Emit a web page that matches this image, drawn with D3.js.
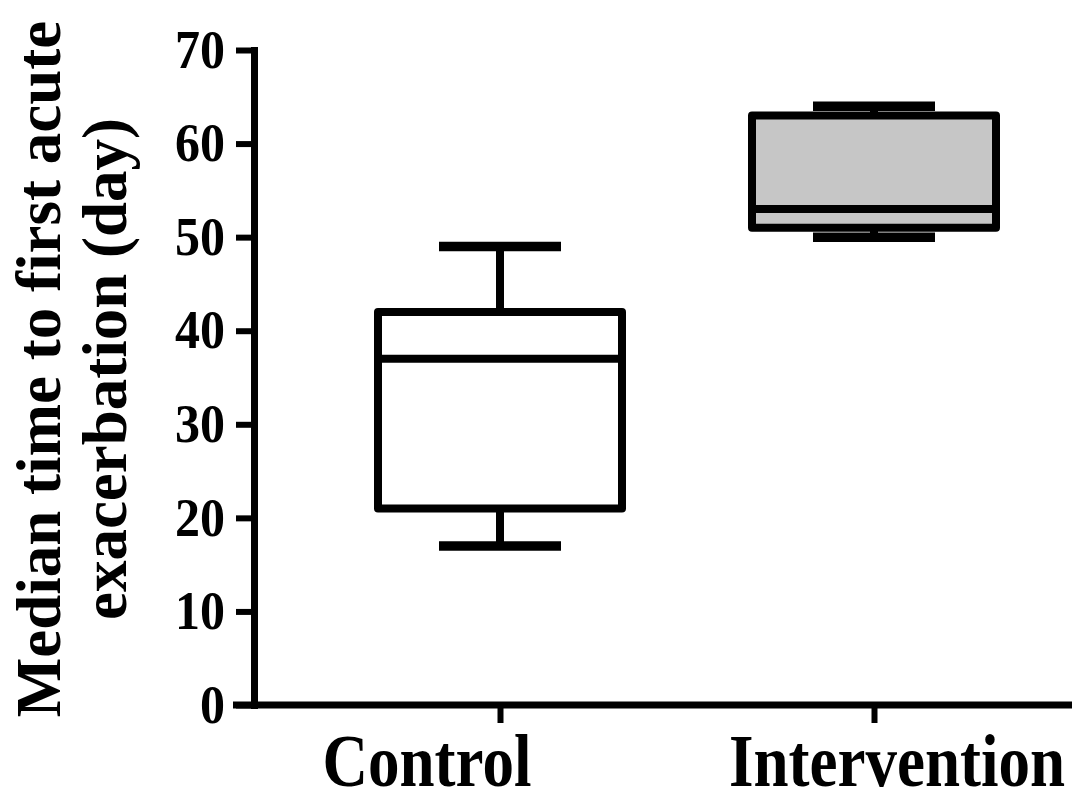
<!DOCTYPE html>
<html>
<head>
<meta charset="utf-8">
<script src="https://cdn.jsdelivr.net/npm/d3@7"></script>
<style>
  html, body { margin: 0; padding: 0; background: #fff; }
  svg { display: block; }
  text { font-family: "Liberation Serif", "Times New Roman", serif; font-weight: bold; fill: #000; }
</style>
</head>
<body>
<script>
// ---- data ----
const categories = ["Control", "Intervention"];
const mins    = [17, 50];
const q1s     = [21, 51];
const medians = [37, 53];
const q3s     = [42, 63];
const maxs    = [49, 64];
const boxFills = ["#ffffff", "#c6c6c6"];
const yTicks = [0, 10, 20, 30, 40, 50, 60, 70];
const yLabelLines = ["Median time to first acute", "exacerbation (day)"];

// ---- layout ----
const W = 1087, H = 802;
const svg = d3.select("body").append("svg").attr("width", W).attr("height", H);

const y = d3.scaleLinear().domain([0, 70]).range([705, 50]);
const x = d3.scalePoint().domain(categories).range([500, 874]);
const boxW = 244, capW = 122, sw = 8, capSw = 9.5;
const labelDx = {"Control": -73, "Intervention": 23};

// y axis
const yAxis = svg.append("g")
  .attr("transform", "translate(254,0)")
  .call(d3.axisLeft(y).tickValues(yTicks).tickSize(18).tickSizeOuter(0).tickPadding(11));
yAxis.select(".domain").attr("stroke", "#000").attr("stroke-width", 7).attr("stroke-linecap", "square");
yAxis.selectAll(".tick line").attr("stroke", "#000").attr("stroke-width", 6);
yAxis.selectAll(".tick text")
  .style("font-size", "50px")
  .style("font-family", "'Liberation Serif', 'Times New Roman', serif")
  .style("font-weight", "bold")
  .attr("transform", "scale(1,1.08)")
  .attr("fill", "#000");

// x axis
svg.append("line")
  .attr("x1", 233).attr("x2", 1072)
  .attr("y1", y(0)).attr("y2", y(0))
  .attr("stroke", "#000").attr("stroke-width", 7);
const xAxis = svg.append("g")
  .attr("transform", `translate(0,${y(0)})`)
  .call(d3.axisBottom(x).tickSize(18).tickSizeOuter(0).tickFormat(""));
xAxis.select(".domain").remove();
xAxis.selectAll(".tick line").attr("stroke", "#000").attr("stroke-width", 6);

// x labels (slightly vertically stretched serif bold, as in the reference)
svg.selectAll("text.xlab").data(categories).enter().append("text")
  .attr("class", "xlab")
  .attr("transform", d => `translate(${x(d) + labelDx[d]},786) scale(1,1.16)`)
  .attr("text-anchor", "middle")
  .style("font-size", "63px")
  .text(d => d);

// y label
const yl = svg.append("text")
  .attr("transform", "translate(0,369) rotate(-90)")
  .attr("text-anchor", "middle")
  .style("font-size", "63px");
yl.selectAll("tspan").data(yLabelLines).enter().append("tspan")
  .attr("x", 0)
  .attr("y", (d, i) => i === 0 ? 60 : 126)
  .text(d => d);

// boxes
const g = svg.append("g");
categories.forEach((c, i) => {
  const cx = x(c);
  const bg = g.append("g");
  bg.append("line").attr("x1", cx).attr("x2", cx).attr("y1", y(maxs[i])).attr("y2", y(q3s[i]))
    .attr("stroke", "#000").attr("stroke-width", sw);
  bg.append("line").attr("x1", cx).attr("x2", cx).attr("y1", y(q1s[i])).attr("y2", y(mins[i]))
    .attr("stroke", "#000").attr("stroke-width", sw);
  [mins[i], maxs[i]].forEach(v => {
    bg.append("line").attr("x1", cx - capW / 2).attr("x2", cx + capW / 2)
      .attr("y1", y(v)).attr("y2", y(v))
      .attr("stroke", "#000").attr("stroke-width", capSw);
  });
  bg.append("rect")
    .attr("x", cx - boxW / 2).attr("width", boxW)
    .attr("y", y(q3s[i])).attr("height", y(q1s[i]) - y(q3s[i]))
    .attr("fill", boxFills[i]).attr("stroke", "#000").attr("stroke-width", sw)
    .attr("stroke-linejoin", "round");
  bg.append("line").attr("x1", cx - boxW / 2).attr("x2", cx + boxW / 2)
    .attr("y1", y(medians[i])).attr("y2", y(medians[i]))
    .attr("stroke", "#000").attr("stroke-width", sw);
});
</script>
</body>
</html>
